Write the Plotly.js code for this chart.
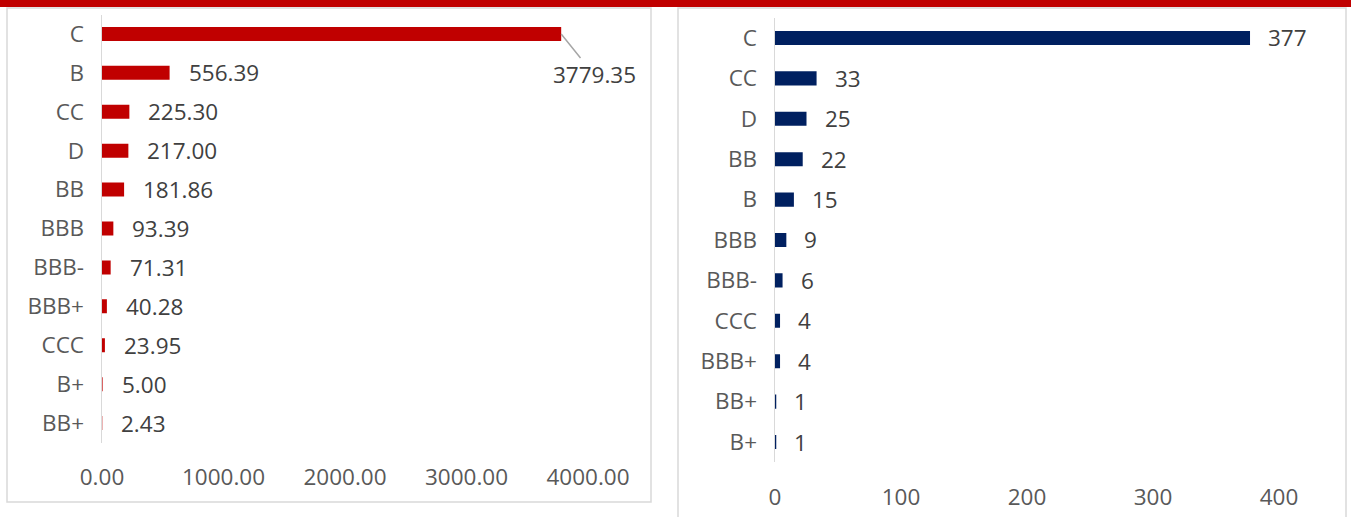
<!DOCTYPE html>
<html>
<head>
<meta charset="utf-8">
<script src="https://cdn.plot.ly/plotly-3.0.1.min.js"></script>
<style>html,body{margin:0;padding:0;background:#fff;}#chart{width:1351px;height:517px;}</style>
</head>
<body>
<div id="chart"></div>
<script>
// Left chart: amount by rating
const leftCategories = ["C","B","CC","D","BB","BBB","BBB-","BBB+","CCC","B+","BB+"];
const leftValues = [3779.35,556.39,225.30,217.00,181.86,93.39,71.31,40.28,23.95,5.00,2.43];
const leftTicks = [0,1000,2000,3000,4000];
// Right chart: count by rating
const rightCategories = ["C","CC","D","BB","B","BBB","BBB-","CCC","BBB+","BB+","B+"];
const rightValues = [377,33,25,22,15,9,6,4,4,1,1];
const rightTicks = [0,100,200,300,400];

const W = 1351, H = 517;
const px = x => x / W;
const py = y => 1 - y / H;
const FONT = "Open Sans, sans-serif";
const TXT = "#404040";
const AX = "#595959";
const FS = 22.5;

const traces = [
  {type:"bar", orientation:"h", x:leftValues, y:leftCategories, xaxis:"x", yaxis:"y",
   marker:{color:"#C00000"}, width:0.36, hoverinfo:"x+y"},
  {type:"bar", orientation:"h", x:rightValues, y:rightCategories, xaxis:"x2", yaxis:"y2",
   marker:{color:"#002060"}, width:0.35, hoverinfo:"x+y"}
];

const annotations = [];
leftValues.forEach((v,i)=>{
  if (i === 0) {
    annotations.push({xref:"x", yref:"y", x:v, y:leftCategories[i], text:v.toFixed(2),
      showarrow:true, arrowhead:0, arrowwidth:1.5, arrowcolor:"#a6a6a6", ax:33, ay:41,
      font:{family:FONT, size:FS, color:TXT}});
  } else {
    annotations.push({xref:"x", yref:"y", x:v, y:leftCategories[i], text:v.toFixed(2),
      showarrow:false, xanchor:"left", xshift:17, font:{family:FONT, size:FS, color:TXT}});
  }
});
rightValues.forEach((v,i)=>{
  annotations.push({xref:"x2", yref:"y2", x:v, y:rightCategories[i], text:String(v),
    showarrow:false, xanchor:"left", xshift:16, font:{family:FONT, size:FS, color:TXT}});
});

const shapes = [
  {type:"rect", xref:"paper", yref:"paper", x0:0, x1:1, y0:py(7), y1:1, fillcolor:"#C00000", line:{width:0}, layer:"below"},
  {type:"rect", xref:"paper", yref:"paper", x0:px(7), x1:px(651), y0:py(502), y1:py(8), fillcolor:"rgba(0,0,0,0)", line:{color:"#d9d9d9", width:1.5}, layer:"below"},
  {type:"rect", xref:"paper", yref:"paper", x0:px(678), x1:px(1346), y0:py(530), y1:py(8), fillcolor:"rgba(0,0,0,0)", line:{color:"#d9d9d9", width:1.5}, layer:"below"}
];

const layout = {
  width:W, height:H, margin:{l:0,r:0,t:0,b:0}, paper_bgcolor:"#fff", plot_bgcolor:"rgba(0,0,0,0)",
  showlegend:false, font:{family:FONT, color:AX},
  xaxis:{domain:[px(102), px(588)], range:[0,4000], tickvals:leftTicks, ticktext:leftTicks.map(t=>t.toFixed(2)),
    showgrid:false, zeroline:false, showline:false, ticks:"", ticklabelstandoff:19,
    tickfont:{family:FONT, size:FS, color:AX}, anchor:"y", fixedrange:true},
  yaxis:{domain:[py(442.5), py(14.5)], type:"category", categoryarray:leftCategories, range:[10.5,-0.5],
    showgrid:false, zeroline:false, showline:true, linecolor:"#d9d9d9", linewidth:1.5, ticks:"",
    ticklabelstandoff:12, tickfont:{family:FONT, size:FS, color:AX}, anchor:"x", fixedrange:true},
  xaxis2:{domain:[px(775), px(1279)], range:[0,400], tickvals:rightTicks, ticktext:rightTicks.map(String),
    showgrid:false, zeroline:false, showline:false, ticks:"", ticklabelstandoff:19,
    tickfont:{family:FONT, size:FS, color:AX}, anchor:"y2", fixedrange:true},
  yaxis2:{domain:[py(462.2), py(17.8)], type:"category", categoryarray:rightCategories, range:[10.5,-0.5],
    showgrid:false, zeroline:false, showline:true, linecolor:"#d9d9d9", linewidth:1.5, ticks:"",
    ticklabelstandoff:12, tickfont:{family:FONT, size:FS, color:AX}, anchor:"x2", fixedrange:true},
  annotations:annotations, shapes:shapes
};

Plotly.newPlot("chart", traces, layout, {displayModeBar:false, staticPlot:true});
</script>
</body>
</html>
